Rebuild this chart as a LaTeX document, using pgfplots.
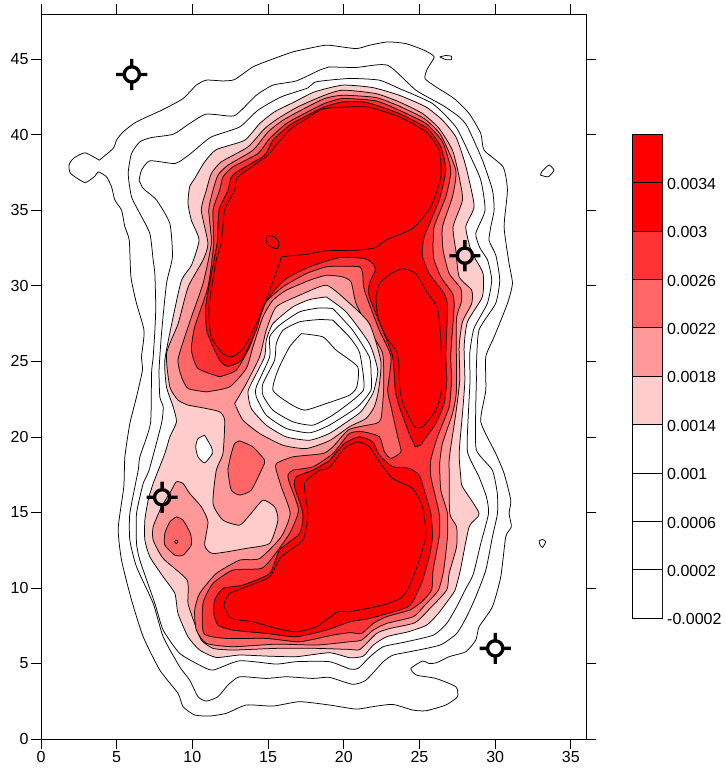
\documentclass[border=0pt]{standalone}
\usepackage{pgfplots}
\pgfplotsset{compat=1.18}
\usepackage{fontspec}
\setmainfont{Liberation Sans}
\definecolor{cA}{HTML}{FFCCCC}
\definecolor{cB}{HTML}{FF9999}
\definecolor{cC}{HTML}{FF6666}
\definecolor{cD}{HTML}{FF3333}
\definecolor{cE}{HTML}{FF0000}
\pgfdeclareplotmark{ch}{%
  \pgfsetlinewidth{3.3pt}%
  \pgfpathcircle{\pgfpointorigin}{7.6pt}%
  \pgfpathmoveto{\pgfqpoint{7.6pt}{0pt}}\pgfpathlineto{\pgfqpoint{15.6pt}{0pt}}%
  \pgfpathmoveto{\pgfqpoint{-7.6pt}{0pt}}\pgfpathlineto{\pgfqpoint{-15.6pt}{0pt}}%
  \pgfpathmoveto{\pgfqpoint{0pt}{7.6pt}}\pgfpathlineto{\pgfqpoint{0pt}{15.6pt}}%
  \pgfpathmoveto{\pgfqpoint{0pt}{-7.6pt}}\pgfpathlineto{\pgfqpoint{0pt}{-15.6pt}}%
  \pgfusepathqstroke}
\tikzset{ln/.style={draw=black,line width=0.75pt,line join=round,smooth,tension=0.35,mark=none}}
\begin{document}
\begin{tikzpicture}
\path[use as bounding box] (-41pt,-31pt) rectangle (684pt,739pt);
\begin{axis}[
  at={(0pt,0pt)},anchor=south west,scale only axis,width=545pt,height=725pt,
  xmin=0,xmax=36,ymin=0,ymax=48,
  xtick={0,5,...,35},ytick={0,5,...,45},
  xtick pos=both,ytick pos=both,xticklabel pos=lower,yticklabel pos=left,
  tick align=outside,major tick length=10pt,
  tick style={black,line width=0.8pt},axis line style={line width=0.9pt},
  tick label style={font=\fontsize{16}{18}\selectfont},
  /pgf/number format/assume math mode=true,
  xticklabel style={yshift=1pt},yticklabel style={xshift=1pt},
  clip=true]
% level 0.0002
\addplot[ln] coordinates {(3.85,38.32)(2.90,38.81)(2.13,38.43)(1.85,37.99)(1.96,37.44)(2.90,36.84)(3.56,37.26)(3.78,37.55)(4.33,37.22)(4.66,36.56)(4.88,35.68)(5.32,35.01)(5.54,33.91)(5.83,33.02)(5.94,30.6)(6.31,28.83)(6.81,27.02)(6.64,25.3)(6.70,24.42)(6.31,22.65)(5.87,20.89)(5.54,18.68)(5.47,16.7)(5.10,13.94)(5.32,11.84)(5.98,9.2)(6.75,6.77)(7.85,4.56)(9.05,3.02)(9.38,2.14)(10.15,1.59)(11.14,1.52)(12.24,1.7)(13.56,2.25)(15.32,2.18)(17.08,2.47)(19.05,2.25)(20.81,1.98)(21.91,2.14)(23.23,2.29)(24.54,1.92)(25.42,1.87)(26.74,2.25)(27.51,2.8)(27.40,3.46)(26.08,4.01)(24.81,4.23)(24.43,4.67)(25.2,5.16)(25.64,5.0)(26.13,5.05)(26.96,5.45)(28.06,5.78)(28.72,6.55)(28.94,7.43)(29.82,8.76)(30.37,10.74)(30.7,13.39)(31.07,14.05)(30.92,14.93)(31.03,15.81)(30.59,17.58)(30.04,18.9)(29.05,21.0)(29.38,23.09)(29.38,25.3)(29.93,26.62)(30.81,28.83)(31.14,30.15)(30.92,31.48)(30.59,33.91)(30.81,36.34)(30.52,37.88)(29.27,38.98)(29.05,40.09)(28.28,41.41)(27.29,42.4)(26.08,43.18)(25.36,43.73)(25.53,44.39)(25.97,45.16)(25.31,45.6)(24.1,46.04)(22.89,46.15)(21.69,45.93)(20.81,45.71)(19.05,45.93)(18.4,45.87)(16.64,45.49)(15.1,44.94)(14.0,44.5)(12.79,43.66)(12.02,43.57)(10.92,43.62)(10.26,43.29)(9.38,42.4)(8.07,41.68)(6.31,40.86)(5.43,40.2)(4.99,39.65)(4.77,39.1)(3.85,38.32)};
\addplot[ln] coordinates {(26.34,45.16)(26.74,45.25)(27.11,45.2)(27.11,44.98)(26.74,44.98)(26.34,45.16)};
\addplot[ln] coordinates {(33.0,37.33)(33.07,37.55)(33.55,38.0)(33.88,37.66)(33.51,37.22)(33.0,37.33)};
\addplot[ln] coordinates {(32.9,13.12)(33.12,13.21)(33.34,13.06)(33.12,12.68)(32.94,12.9)(32.9,13.12)};
% level 0.0006
\addplot[ln] coordinates {(19.05,44.5)(18.4,44.28)(16.86,43.57)(15.32,43.29)(14.22,42.62)(13.34,41.74)(12.68,41.24)(10.92,41.37)(9.82,40.75)(8.73,40.04)(7.3,39.82)(6.53,39.54)(5.98,38.76)(5.76,37.44)(5.98,35.9)(6.53,34.79)(7.19,33.47)(7.41,31.7)(7.52,30.81)(7.58,28.6)(7.52,27.02)(7.41,25.3)(7.3,24.2)(7.23,20.89)(6.53,18.68)(6.42,17.8)(5.87,14.93)(5.87,13.17)(6.31,11.4)(7.41,8.98)(8.07,6.77)(9.16,4.78)(9.82,3.9)(10.37,2.8)(10.92,2.51)(11.69,2.8)(12.35,3.57)(13.12,4.12)(14.88,4.01)(16.2,4.12)(17.96,4.01)(19.05,4.08)(20.59,3.62)(21.47,3.9)(22.61,5.12)(23.27,5.56)(24.37,5.78)(26.36,6.22)(27.46,6.99)(28.12,8.1)(28.72,9.42)(29.38,11.18)(29.82,13.39)(30.15,14.93)(30.14,16.26)(29.81,17.8)(28.76,19.13)(28.71,21.55)(28.76,23.76)(28.76,24.64)(28.93,27.07)(30.03,28.83)(30.3,30.38)(30.05,32.0)(29.6,33.0)(29.71,33.91)(29.93,35.01)(29.82,36.34)(29.16,38.32)(28.17,40.53)(27.62,41.19)(26.52,41.96)(24.76,42.96)(22.89,44.61)(20.81,44.46)(19.05,44.5)};
% level 0.001
\addplot[ln] coordinates {(6.48,37.0)(6.64,37.66)(7.19,38.28)(8.84,38.1)(9.6,38.54)(10.15,38.98)(11.25,39.86)(13.12,40.52)(14.33,41.63)(15.86,42.51)(17.62,43.1)(18.17,43.51)(20.37,43.73)(22.34,43.62)(23.66,43.07)(25.86,42.07)(27.4,40.53)(28.28,38.76)(29.05,37.0)(29.33,35.01)(28.72,33.47)(29.0,32.5)(29.5,31.7)(29.77,30.38)(29.48,28.83)(28.6,27.18)(28.32,25.52)(28.34,23.76)(28.23,21.55)(28.17,19.02)(28.93,17.36)(29.42,16.04)(29.56,14.93)(29.05,12.95)(28.55,10.9)(28.01,9.86)(27.46,8.76)(26.8,7.65)(25.92,6.88)(24.15,6.44)(22.61,6.11)(21.73,5.45)(20.96,4.68)(20.41,4.63)(19.05,5.12)(16.86,5.12)(15.54,4.96)(13.12,5.18)(11.36,4.56)(10.48,4.89)(9.16,5.67)(8.07,7.21)(7.52,8.98)(6.53,11.84)(6.31,12.95)(6.31,14.93)(6.75,16.92)(7.14,17.8)(7.96,20.89)(8.07,21.99)(7.85,22.65)(7.8,24.42)(7.96,26.84)(8.29,30.15)(8.68,31.92)(8.51,34.13)(7.63,35.68)(6.75,36.45)(6.48,37.0)};
% level 0.0014
\addplot[ln,fill=cA] coordinates {(10.15,37.1)(10.81,38.21)(11.58,39.02)(13.45,39.64)(14.44,40.74)(15.42,41.52)(16.74,42.18)(18.06,42.84)(19.93,43.29)(21.9,43.13)(23.66,42.62)(25.42,41.85)(26.52,40.97)(27.4,39.87)(27.95,38.32)(28.28,37)(28.61,35.23)(28.06,33.91)(28.39,32.37)(28.61,31.92)(29.2,30.81)(29.15,29.27)(28.17,27.62)(27.95,25.96)(28.0,23.76)(27.84,21.55)(27.62,18.91)(27.73,17.36)(27.84,16.7)(28.94,14.93)(28.28,14.05)(27.7,11.18)(27.35,9.86)(26.91,9.2)(26.25,8.32)(25.48,7.54)(24.26,7.1)(22.83,6.77)(21.95,6.22)(21.29,5.49)(20.41,5.38)(19.05,5.71)(16.86,5.45)(14.88,5.49)(13.12,5.56)(11.58,5.4)(10.48,5.89)(9.71,6.77)(9.05,8.31)(8.84,9.64)(8.07,10.74)(7.19,12.06)(6.86,13.17)(6.86,14.49)(7.08,15.81)(7.41,16.92)(8.18,18.9)(8.51,20.0)(8.95,21.0)(8.73,21.99)(8.29,23.31)(8.18,25.08)(8.73,27.95)(9.28,30.37)(9.94,31.37)(10.44,33.03)(9.93,34.35)(9.71,35.46)(9.82,36.56)(10.15,37.1)};
\addplot[ln,fill=white] coordinates {(10.81,20.11)(11.25,19.34)(11.32,18.9)(10.81,18.28)(10.37,18.68)(10.22,19.34)(10.37,19.89)(10.81,20.11)};
% level 0.0018
\addplot[ln,fill=cB] coordinates {(9.72,22.1)(9.06,22.43)(8.51,23.31)(8.29,25.52)(9.06,27.5)(9.72,29.93)(10.7,31.7)(11.03,32.81)(10.59,35.01)(10.92,36.33)(11.25,37.43)(11.91,38.21)(13.67,39.2)(14.77,40.41)(15.64,41.07)(16.96,41.85)(18.72,42.62)(19.93,42.96)(22.12,42.73)(23.66,42.18)(25.2,41.41)(26.3,40.42)(27.18,38.98)(27.62,37.22)(27.84,35.68)(27.22,33.91)(27.4,32.37)(27.62,30.6)(28.45,29.71)(28.45,28.83)(27.84,27.62)(27.62,25.96)(27.66,23.76)(27.4,21.55)(27.07,19.35)(26.96,18.47)(26.96,17.8)(27.0,14.93)(27.45,14.05)(27.45,12.73)(26.96,10.96)(26.8,9.86)(25.7,8.65)(24.7,7.7)(23.05,7.32)(22.17,6.99)(21.07,5.93)(20.41,5.93)(18.18,6.0)(15.54,6.0)(12.68,5.89)(11.36,6.0)(10.59,6.55)(10.15,7.65)(9.71,8.98)(9.65,10.52)(8.07,11.95)(7.41,13.17)(7.41,14.05)(7.96,15.37)(8.62,16.48)(8.94,17.03)(9.38,16.92)(9.82,16.26)(10.59,15.37)(11.03,14.38)(10.81,12.84)(11.36,12.28)(13.56,12.62)(15.1,12.95)(15.65,14.49)(15.43,15.37)(14.66,15.81)(13.78,14.82)(13.12,14.16)(12.02,14.49)(11.36,15.59)(11.58,17.8)(12.02,18.9)(12.13,21.11)(11.8,21.66)(10.92,21.88)(9.72,22.1)};
% level 0.0022
\addplot[ln,fill=cC] coordinates {(10.92,22.98)(9.72,23.2)(9.28,23.98)(9.06,25.19)(9.94,27.95)(10.7,30.15)(11.25,32.81)(11.08,35.01)(11.36,36.33)(11.69,37.33)(12.35,37.99)(14.0,38.98)(14.99,40.19)(15.97,40.96)(17.18,41.63)(18.72,42.4)(19.93,42.62)(22.12,42.47)(23.66,41.9)(25.31,41.08)(26.41,39.98)(27.4,37.66)(27.18,35.9)(26.52,33.91)(26.56,32.37)(26.96,30.82)(27.73,29.82)(27.77,28.94)(27.44,27.73)(27.44,23.1)(27.18,21.55)(26.52,19.57)(26.34,18.24)(26.41,16.48)(26.85,14.93)(26.85,13.39)(26.6,11.18)(26.25,9.86)(25.37,8.87)(24.6,8.1)(22.83,7.65)(21.95,7.21)(21.18,6.55)(20.41,6.44)(18.18,6.22)(15.54,6.28)(12.68,6.11)(10.92,6.33)(10.26,7.21)(10.15,8.53)(10.48,9.64)(11.58,10.96)(13.12,11.84)(14.44,11.95)(15.87,13.39)(16.46,14.93)(15.87,16.7)(15.54,17.8)(15.54,18.24)(16.64,18.68)(18.62,18.9)(19.28,19.34)(20.37,20.5)(22.13,20.89)(22.46,21.22)(22.63,23.1)(22.57,25.52)(21.69,27.06)(20.81,28.83)(20.48,30.26)(19.9,30.6)(18.84,30.7)(17.74,30.37)(16.2,29.71)(15.32,29.05)(14.66,27.95)(14.0,25.96)(13.56,24.53)(12.46,23.31)(10.92,22.98)};
\addplot[ln,fill=cC] coordinates {(13.12,19.74)(14.0,19.34)(14.77,18.46)(14.66,18.02)(13.89,16.48)(13.12,16.15)(12.57,16.48)(12.35,17.8)(12.57,18.9)(12.79,19.56)(13.12,19.74)};
\addplot[ln,fill=cC] coordinates {(8.94,14.71)(9.38,14.49)(9.87,13.61)(9.93,12.84)(9.38,12.17)(8.84,12.17)(8.18,12.84)(8.18,13.61)(8.51,14.38)(8.94,14.71)};
\addplot[ln] coordinates {(8.82,13.06)(8.94,13.18)(9.06,13.06)(8.94,12.94)(8.82,13.06)};
% level 0.0026
\addplot[ln,fill=cD] coordinates {(11.8,23.98)(10.37,24.53)(9.94,25.74)(10.15,27.28)(11.03,29.93)(11.41,32.81)(11.36,35.01)(11.8,36.33)(12.02,37.21)(12.68,37.88)(14.33,38.76)(15.1,39.75)(16.19,40.74)(17.4,41.41)(18.72,42.07)(19.93,42.4)(22.12,42.25)(23.66,41.63)(25.42,40.75)(26.52,39.54)(27.07,37.66)(26.74,35.9)(25.97,33.91)(25.9,32.37)(25.97,31.7)(26.41,30.6)(27.18,29.49)(27.29,28.61)(27.07,25.52)(27.11,23.76)(26.96,22.0)(26.19,20.01)(25.75,18.47)(25.75,17.36)(26.3,14.93)(26.3,13.39)(25.9,11.18)(25.8,9.86)(25.15,9.09)(24.37,8.54)(22.83,8.1)(21.95,7.65)(21.18,6.99)(20.41,7.04)(19.28,6.88)(17.08,6.44)(14.88,6.66)(12.24,6.66)(10.75,6.99)(10.7,8.98)(11.36,10.3)(12.68,11.18)(14.55,11.29)(15.32,12.06)(16.42,13.61)(17.01,15.15)(16.42,16.92)(16.31,17.47)(16.64,17.8)(17.96,18.02)(19.28,18.9)(20.37,20.23)(21.25,20.34)(22.35,20.01)(22.68,19.02)(23.12,18.58)(23.78,19.02)(23.56,20.01)(23.12,22.0)(22.9,23.1)(23.12,25.3)(22.35,27.06)(21.36,29.71)(21.25,30.81)(21.03,31.26)(19.71,31.3)(18.84,31.26)(17.52,30.81)(15.98,29.93)(14.88,28.94)(14.44,27.84)(13.78,25.96)(12.9,24.42)(11.8,23.98)};
% level 0.003
\addplot[ln,fill=cE] coordinates {(24.72,19.35)(24.32,20.23)(23.67,22.0)(23.4,23.1)(23.23,25.3)(22.57,27.06)(21.69,29.27)(21.69,30.15)(22.08,31.03)(21.91,31.48)(21.36,31.81)(19.71,31.87)(17.74,31.26)(16.2,30.48)(15.43,29.71)(14.66,28.61)(14.22,27.06)(13.23,25.08)(12.35,24.68)(11.8,25.08)(10.97,26.95)(10.88,28.61)(11.25,30.81)(11.63,32.81)(11.76,35.01)(12.35,36.33)(12.57,37.21)(13.12,37.66)(14.77,38.65)(15.31,39.64)(16.41,40.63)(17.62,41.3)(18.72,41.85)(19.93,42.18)(21.5,42.15)(23.66,41.41)(25.53,40.42)(26.41,39.2)(26.74,37.66)(26.3,35.68)(25.31,33.25)(25.2,32.37)(25.2,31.92)(25.64,30.82)(26.63,29.49)(26.85,28.61)(26.74,25.52)(26.8,23.76)(26.63,22.22)(26.08,20.89)(25.31,19.79)(25.09,19.46)(24.72,19.35)};
\addplot[ln,fill=cE] coordinates {(19.05,18.42)(20.04,19.57)(21.03,20.01)(21.91,19.68)(22.35,18.8)(23.23,18.03)(24.32,17.92)(24.98,17.47)(25.31,16.48)(25.75,14.93)(25.86,13.39)(25.64,12.06)(25.2,10.5)(24.93,9.86)(24.26,8.76)(21.73,7.99)(20.41,7.76)(18.84,7.21)(16.86,6.77)(14.88,6.99)(12.68,7.21)(11.69,7.54)(11.41,8.31)(11.47,9.2)(12.02,9.97)(13.34,10.19)(15.1,10.96)(15.76,12.51)(17.08,13.61)(17.3,14.93)(16.75,16.7)(16.86,17.36)(17.96,17.8)(19.05,18.42)};
% level 0.0034
\addplot[ln] coordinates {(17.73,41.18)(18.72,41.74)(21.47,41.85)(23.66,41.19)(25.42,40.2)(26.3,38.98)(26.41,37.22)(25.75,35.23)(24.54,33.8)(22.78,33.03)(22.12,32.54)(21.03,32.37)(18.83,32.32)(17.52,32.09)(15.91,31.92)(15.76,31.48)(14.44,27.95)(13.45,25.96)(12.64,25.3)(12.02,25.52)(11.25,26.62)(11.1,28.61)(11.58,31.7)(11.91,32.81)(12.13,35.01)(12.79,36.33)(13.01,37.21)(14.99,38.65)(15.42,39.2)(16.52,40.41)(17.73,41.18)};
\addplot[ln] coordinates {(22.13,29.27)(22.35,30.15)(23.12,30.81)(23.89,31.14)(24.76,30.81)(25.42,29.71)(26.19,28.5)(26.41,26.4)(26.45,23.09)(26.08,21.77)(25.2,20.67)(24.66,20.7)(24.0,22.0)(23.71,23.1)(23.62,25.08)(23.45,25.74)(22.79,26.62)(22.24,27.95)(22.13,29.27)};
\addplot[ln] coordinates {(14.88,33.03)(14.99,33.32)(15.43,33.25)(15.71,32.92)(15.65,32.48)(15.32,32.52)(14.99,32.7)(14.88,33.03)};
\addplot[ln] coordinates {(18.4,17.8)(17.41,16.92)(17.63,14.93)(17.3,13.17)(15.87,12.06)(15.1,10.74)(13.56,10.08)(12.46,9.64)(12.09,8.87)(12.57,7.98)(14.0,7.76)(15.54,7.32)(16.86,7.1)(18.18,7.43)(19.6,8.42)(20.41,8.43)(22.61,8.87)(23.71,9.31)(24.2,9.86)(24.76,11.18)(25.42,13.39)(25.2,15.37)(24.54,16.59)(23.23,17.25)(22.35,18.36)(21.69,19.35)(20.92,19.68)(20.04,19.24)(19.05,17.98)(18.4,17.8)};
% central depression
\addplot[ln,fill=cA] coordinates {(12.79,22.21)(13.56,23.53)(14.44,25.3)(14.88,27.06)(15.54,28.61)(17.08,29.38)(18.84,30.04)(20.16,29.05)(21.69,27.5)(22.45,25.0)(22.3,23.1)(22.02,22.0)(21.47,21.22)(20.37,20.67)(19.05,19.75)(17.52,19.23)(15.98,19.45)(14.44,20.23)(13.34,21.11)(12.79,22.21)};
\addplot[ln,fill=white] coordinates {(18.84,29.27)(20.16,28.27)(21.69,26.18)(22.24,24.42)(22.0,23.1)(21.8,22.66)(21.14,21.67)(20.37,21.11)(19.05,20.23)(17.74,19.78)(16.2,20.0)(14.88,20.78)(13.89,21.88)(13.67,22.98)(14.0,23.75)(14.77,25.3)(14.88,26.4)(15.32,27.5)(16.64,28.61)(17.74,29.09)(18.84,29.27)};
\addplot[ln] coordinates {(19.28,28.5)(20.59,27.06)(21.69,25.3)(21.8,24.2)(21.8,23.1)(20.92,22.0)(19.05,20.78)(17.74,20.27)(16.2,20.56)(14.88,21.44)(14.22,22.65)(14.22,23.31)(15.1,25.3)(15.1,26.62)(15.76,27.4)(17.08,28.28)(18.4,28.54)(19.28,28.5)};
\addplot[ln] coordinates {(19.28,27.73)(20.37,26.62)(21.03,25.63)(21.3,24.0)(21.3,23.1)(20.48,22.33)(19.2,21.4)(17.96,20.78)(16.64,21.0)(15.32,21.77)(14.66,22.76)(14.66,23.53)(15.43,25.08)(15.54,26.18)(15.98,27.06)(17.08,27.62)(18.4,27.77)(19.28,27.73)};
\addplot[ln] coordinates {(17.19,26.84)(18.62,26.62)(19.5,25.74)(20.92,24.64)(20.86,23.31)(20.37,22.76)(18.84,22.21)(17.41,21.77)(16.42,22.21)(15.32,23.09)(15.65,24.42)(16.42,25.96)(17.19,26.84)};
% crosshair points
\addplot[only marks,mark=ch,mark size=1pt,black] coordinates {(6,44)(28,32)(8,16)(30,6)};
\end{axis}
\begin{axis}[
  at={(591pt,120.7pt)},anchor=south west,scale only axis,width=30pt,height=484pt,
  xmin=0,xmax=1,ymin=-0.0002,ymax=0.0038,
  xtick=\empty,ytick={-0.0002,0.0002,0.0006,0.001,0.0014,0.0018,0.0022,0.0026,0.003,0.0034},
  yticklabels={-0.0002,0.0002,0.0006,0.001,0.0014,0.0018,0.0022,0.0026,0.003,0.0034},
  ytick pos=right,yticklabel pos=right,major tick length=0pt,scaled y ticks=false,
  yticklabel style={font=\fontsize{16}{18}\selectfont,anchor=west,inner sep=0pt,xshift=5pt,yshift=-1pt},
  axis line style={line width=0.8pt}]
\addplot[draw=black,line width=0.8pt,fill=white] coordinates {(0,-0.0002)(1,-0.0002)(1,0.0002)(0,0.0002)(0,-0.0002)};
\addplot[draw=black,line width=0.8pt,fill=white] coordinates {(0,0.0002)(1,0.0002)(1,0.0006)(0,0.0006)(0,0.0002)};
\addplot[draw=black,line width=0.8pt,fill=white] coordinates {(0,0.0006)(1,0.0006)(1,0.001)(0,0.001)(0,0.0006)};
\addplot[draw=black,line width=0.8pt,fill=white] coordinates {(0,0.001)(1,0.001)(1,0.0014)(0,0.0014)(0,0.001)};
\addplot[draw=black,line width=0.8pt,fill=cA] coordinates {(0,0.0014)(1,0.0014)(1,0.0018)(0,0.0018)(0,0.0014)};
\addplot[draw=black,line width=0.8pt,fill=cB] coordinates {(0,0.0018)(1,0.0018)(1,0.0022)(0,0.0022)(0,0.0018)};
\addplot[draw=black,line width=0.8pt,fill=cC] coordinates {(0,0.0022)(1,0.0022)(1,0.0026)(0,0.0026)(0,0.0022)};
\addplot[draw=black,line width=0.8pt,fill=cD] coordinates {(0,0.0026)(1,0.0026)(1,0.003)(0,0.003)(0,0.0026)};
\addplot[draw=black,line width=0.8pt,fill=cE] coordinates {(0,0.003)(1,0.003)(1,0.0034)(0,0.0034)(0,0.003)};
\addplot[draw=black,line width=0.8pt,fill=cE] coordinates {(0,0.0034)(1,0.0034)(1,0.0038)(0,0.0038)(0,0.0034)};
\end{axis}
\end{tikzpicture}
\end{document}
